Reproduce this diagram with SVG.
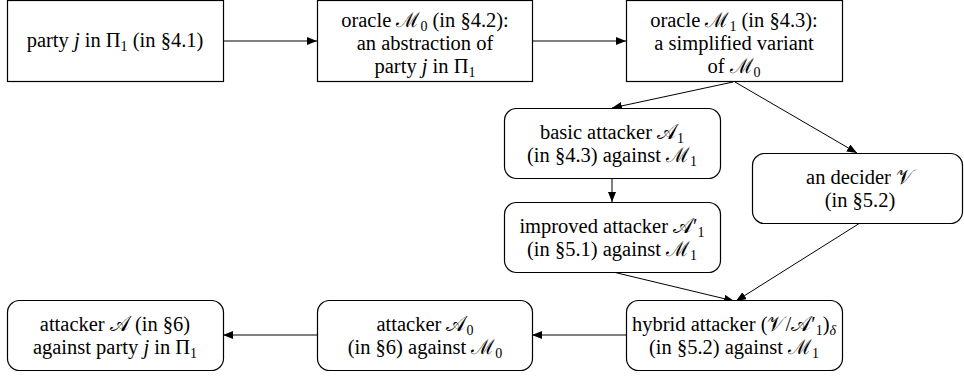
<svg xmlns="http://www.w3.org/2000/svg" width="964" height="376" viewBox="0 0 964 376">
<defs>
<marker id="ah" viewBox="0 0 10 8" refX="10" refY="4" markerWidth="10" markerHeight="8" markerUnits="userSpaceOnUse" orient="auto">
<path d="M0,0 L10,4 L0,8 z" fill="#000"/>
</marker>
</defs>
<rect width="964" height="376" fill="#fff"/>
<g id="connectors" stroke="#000" stroke-width="1" fill="none" marker-end="url(#ah)">
<line x1="223" y1="41" x2="317" y2="41"/>
<line x1="532" y1="41" x2="626" y2="41"/>
<line x1="733" y1="82" x2="612" y2="108"/>
<line x1="735" y1="82" x2="857" y2="153"/>
<line x1="612" y1="178" x2="612" y2="202"/>
<line x1="613" y1="272" x2="734" y2="301"/>
<line x1="860" y1="223" x2="736" y2="301"/>
<line x1="626" y1="335" x2="532" y2="335"/>
<line x1="317" y1="335" x2="223" y2="335"/>
</g>
<g id="n1">
<rect x="7.5" y="0.5" width="216" height="81" fill="#fff" stroke="#000" stroke-width="1.2"/>
<text x="115" y="47" font-family="Liberation Serif" font-size="20.5" text-anchor="middle">party <tspan font-style="italic">j</tspan> in Π<tspan font-size="14" dy="4">1</tspan><tspan dy="-4"> (in §4.1)</tspan></text>
</g>
<g id="n2">
<rect x="317.5" y="0.5" width="215" height="81" fill="#fff" stroke="#000" stroke-width="1.2"/>
<text x="425" y="27" font-family="Liberation Serif" font-size="20.5" text-anchor="middle">oracle ℳ<tspan font-size="14" dy="4">0</tspan><tspan dy="-4"> (in §4.2):</tspan></text>
<text x="425" y="50" font-family="Liberation Serif" font-size="20.5" text-anchor="middle">an abstraction of</text>
<text x="425" y="73" font-family="Liberation Serif" font-size="20.5" text-anchor="middle">party <tspan font-style="italic">j</tspan> in Π<tspan font-size="14" dy="4">1</tspan></text>
</g>
<g id="n3">
<rect x="626.5" y="0.5" width="216" height="81" fill="#fff" stroke="#000" stroke-width="1.2"/>
<text x="734" y="27" font-family="Liberation Serif" font-size="20.5" text-anchor="middle">oracle ℳ<tspan font-size="14" dy="4">1</tspan><tspan dy="-4"> (in §4.3):</tspan></text>
<text x="734" y="50" font-family="Liberation Serif" font-size="20.5" text-anchor="middle">a simplified variant</text>
<text x="734" y="73" font-family="Liberation Serif" font-size="20.5" text-anchor="middle">of ℳ<tspan font-size="14" dy="4">0</tspan></text>
</g>
<g id="n4">
<rect x="504.5" y="108.5" width="216" height="70" rx="12" fill="#fff" stroke="#000" stroke-width="1.2"/>
<text x="612" y="139" font-family="Liberation Serif" font-size="20.5" text-anchor="middle">basic attacker 𝒜<tspan font-size="14" dy="4">1</tspan></text>
<text x="612" y="162" font-family="Liberation Serif" font-size="20.5" text-anchor="middle">(in §4.3) against ℳ<tspan font-size="14" dy="4">1</tspan></text>
</g>
<g id="n5">
<rect x="504.5" y="202.5" width="216" height="70" rx="12" fill="#fff" stroke="#000" stroke-width="1.2"/>
<text x="612" y="233" font-family="Liberation Serif" font-size="20.5" text-anchor="middle">improved attacker 𝒜′<tspan font-size="14" dy="4">1</tspan></text>
<text x="612" y="256" font-family="Liberation Serif" font-size="20.5" text-anchor="middle">(in §5.1) against ℳ<tspan font-size="14" dy="4">1</tspan></text>
</g>
<g id="n6">
<rect x="752.5" y="153.5" width="210" height="70" rx="12" fill="#fff" stroke="#000" stroke-width="1.2"/>
<text x="860" y="184" font-family="Liberation Serif" font-size="20.5" text-anchor="middle">an decider 𝒱</text>
<text x="860" y="207" font-family="Liberation Serif" font-size="20.5" text-anchor="middle">(in §5.2)</text>
</g>
<g id="n7">
<rect x="626.5" y="300.5" width="216" height="70" rx="12" fill="#fff" stroke="#000" stroke-width="1.2"/>
<text x="734" y="331" font-family="Liberation Serif" font-size="20.5" text-anchor="middle">hybrid attacker (𝒱/𝒜′<tspan font-size="14" dy="4">1</tspan><tspan dy="-4">)</tspan><tspan font-size="14" font-style="italic" dy="4">δ</tspan></text>
<text x="734" y="354" font-family="Liberation Serif" font-size="20.5" text-anchor="middle">(in §5.2) against ℳ<tspan font-size="14" dy="4">1</tspan></text>
</g>
<g id="n8">
<rect x="317.5" y="300.5" width="215" height="70" rx="12" fill="#fff" stroke="#000" stroke-width="1.2"/>
<text x="425" y="331" font-family="Liberation Serif" font-size="20.5" text-anchor="middle">attacker 𝒜<tspan font-size="14" dy="4">0</tspan></text>
<text x="425" y="354" font-family="Liberation Serif" font-size="20.5" text-anchor="middle">(in §6) against ℳ<tspan font-size="14" dy="4">0</tspan></text>
</g>
<g id="n9">
<rect x="7.5" y="300.5" width="216" height="70" rx="12" fill="#fff" stroke="#000" stroke-width="1.2"/>
<text x="115" y="331" font-family="Liberation Serif" font-size="20.5" text-anchor="middle">attacker 𝒜 (in §6)</text>
<text x="115" y="354" font-family="Liberation Serif" font-size="20.5" text-anchor="middle">against party <tspan font-style="italic">j</tspan> in Π<tspan font-size="14" dy="4">1</tspan></text>
</g>
</svg>
